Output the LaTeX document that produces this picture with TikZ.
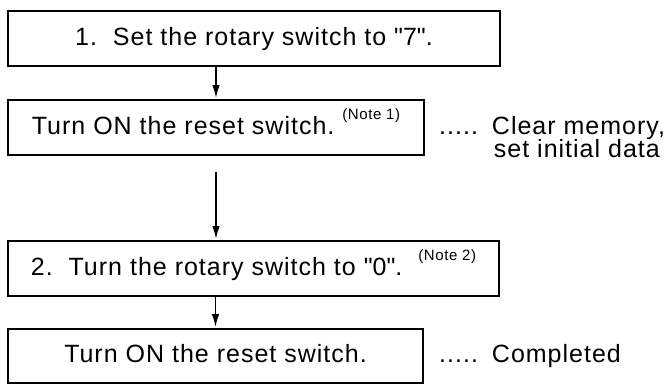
\documentclass[tikz,border=0pt]{standalone}
\usepackage{fontspec}
\setmainfont{Liberation Sans}[LetterSpace=4]
\usetikzlibrary{arrows.meta, positioning}

\newcommand{\stepnote}[1]{\raisebox{15pt}[0pt][0pt]{\fontsize{15}{15}\selectfont(Note #1)}}

\begin{document}
\begin{tikzpicture}[
    x=1pt, y=-1pt,
    block/.style={rectangle, draw, line width=2pt, anchor=north west, inner sep=0pt, minimum height=55pt, text height=18pt, text depth=5pt, font=\fontsize{25}{30}\selectfont},
    remark/.style={inner sep=0pt, font=\fontsize{25}{30}\selectfont},
    arrow/.style={-{Latex[length=13pt, width=7.5pt]}, line width=1.6pt, shorten >=1pt}
]
\useasboundingbox (0,0) rectangle (671,384);

% Steps
\node[block, minimum width=492pt] (s1) at (7,10) {1.\ \ Set the rotary switch to \textquotedbl 7\textquotedbl.};
\node[block, minimum width=416pt] (r1) at (7,99) {Turn ON the reset switch.\ \stepnote{1}};
\node[block, minimum width=491pt] (s2) at (7,240) {2.\ \ Turn the rotary switch to \textquotedbl 0\textquotedbl.\ \ \stepnote{2}};
\node[block, minimum width=415pt, minimum height=54pt] (r2) at (7,328) {Turn ON the reset switch.};

% Remarks
\node[remark, anchor=base west] (clr) at (439,134) {.....\hspace{14pt}Clear memory,};
\node[remark, anchor=base east] (ini) at (660,157) {set initial data};
\node[remark, anchor=base west] (done) at (439,362) {.....\hspace{14pt}Completed};

% Arrows
\coordinate (gap) at ([yshift=-16pt]r1.south);
\draw[arrow] (r1.north |- s1.south) -- (r1.north);
\draw[arrow] (gap) -- (gap |- s2.north);
\draw[arrow] (r2.north |- s2.south) -- (r2.north);

\end{tikzpicture}
\end{document}
